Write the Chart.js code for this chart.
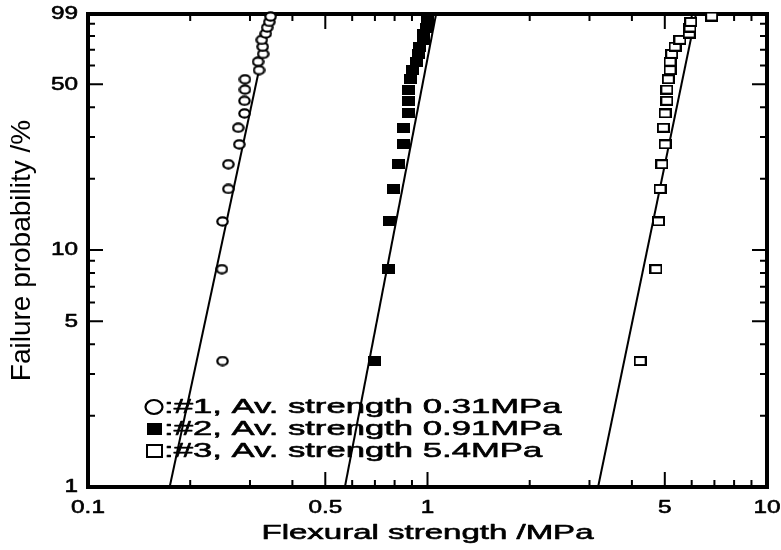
<!DOCTYPE html>
<html>
<head>
<meta charset="utf-8">
<title>Flexural strength – failure probability</title>
<script src="https://cdn.jsdelivr.net/npm/chart.js@4.4.0/dist/chart.umd.min.js"></script>
<style>
  html, body { margin: 0; padding: 0; background: #fff; }
  #wrap { width: 781px; height: 550px; position: relative; }
</style>
</head>
<body>
<div id="wrap"><canvas id="chart"></canvas></div>
<script>
// Failure probability (%) for the 20 specimens of each batch (median rank)
const failureProb = [3.4, 8.3, 13.2, 18.1, 23.0, 27.9, 32.8, 37.7, 42.6, 47.5,
                     52.5, 57.4, 62.3, 67.2, 72.1, 77.0, 81.9, 86.8, 91.7, 96.6];

// Flexural strength (MPa) for each batch, lowest first
const strength1 = [0.249, 0.248, 0.249, 0.259, 0.259, 0.279, 0.277, 0.289, 0.289, 0.290,
                   0.290, 0.319, 0.317, 0.328, 0.327, 0.325, 0.334, 0.337, 0.342, 0.345];
const strength2 = [0.700, 0.766, 0.775, 0.793, 0.820, 0.849, 0.849, 0.878, 0.878, 0.882,
                   0.894, 0.906, 0.925, 0.938, 0.950, 0.970, 0.976, 0.990, 0.997, 1.003];
const strength3 = [4.23, 4.71, 4.79, 4.84, 4.90, 5.01, 4.95, 5.01, 5.07, 5.07,
                   5.12, 5.18, 5.18, 5.24, 5.36, 5.54, 5.90, 5.93, 5.96, 6.87];

// Fitted lines: strength at 1 % and at 99 % failure probability
const fitProb = [1, 99];
const fit1 = [0.174, 0.346];
const fit2 = [0.571, 1.06];
const fit3 = [3.18, 6.18];

const seriesNames = [':#1, Av. strength 0.31MPa', ':#2, Av. strength 0.91MPa', ':#3, Av. strength 5.4MPa'];

// Axis ticks (all get a tick mark, only the labelled ones get text)
const xTicks = [0.1, 0.2, 0.3, 0.4, 0.5, 0.6, 0.7, 0.8, 0.9, 1, 2, 3, 4, 5, 6, 7, 8, 9, 10];
const xLabels = [0.1, 0.5, 1, 5, 10];
const yTicks = [1, 2, 3, 4, 5, 6, 7, 8, 9, 10, 20, 30, 40, 50, 60, 70, 80, 90, 99];
const yLabels = [1, 5, 10, 50, 99];

const FONT = '"Liberation Sans", Arial, Helvetica, sans-serif';

// horizontal text is drawn wide; factor picked by font size
const TEXT_WIDEN = { 19: 1.28, 20: 1.65, 21: 1.65 };

// small canvases used as point styles
function markerCanvas(w, h, paint) {
    const c = document.createElement('canvas');
    c.width = w;
    c.height = h;
    paint(c.getContext('2d'), w, h);
    return c;
}

function paintRing(g, w, h) {
    g.fillStyle = '#fff';
    g.strokeStyle = '#000';
    g.lineWidth = 2.2;
    g.beginPath();
    g.ellipse(w / 2, h / 2, w / 2 - 1.3, h / 2 - 1.3, 0, 0, Math.PI * 2);
    g.fill();
    g.stroke();
}
function paintSolid(g, w, h) {
    g.fillStyle = '#000';
    g.fillRect(0, 0, w, h);
}
function paintBox(g, w, h) {
    g.fillStyle = '#fff';
    g.fillRect(0, 0, w, h);
    g.strokeStyle = '#000';
    g.lineWidth = 2;
    g.strokeRect(1, 1, w - 2, h - 2);
}

const ringMark = markerCanvas(13, 11, paintRing);
const solidMark = markerCanvas(13, 10, paintSolid);
const boxMark = markerCanvas(13, 10, paintBox);

function points(xs) {
    return xs.map((v, i) => ({ x: v, y: failureProb[i] }));
}
function fitLine(xs) {
    return xs.map((v, i) => ({ x: v, y: fitProb[i] }));
}

function pointSet(xs, style) {
    return {
        data: points(xs),
        showLine: false,
        pointStyle: style,
        pointRadius: 6,
        pointHoverRadius: 6,
        clip: false,
        order: 0
    };
}
function lineSet(xs) {
    return {
        data: fitLine(xs),
        showLine: true,
        borderColor: '#000',
        borderWidth: 2,
        pointRadius: 0,
        clip: false,
        order: 1
    };
}

// Heavy, wide lettering: unrotated fillText on the chart canvas gets a thin
// outline and is stretched sideways around its anchor point
const wideText = {
    id: 'wideText',
    beforeInit(chart) {
        const ctx = chart.ctx;
        const plainFill = ctx.fillText.bind(ctx);
        const heavyFill = (text, x, y) => {
            ctx.save();
            ctx.strokeStyle = ctx.fillStyle;
            ctx.lineWidth = 0.6;
            ctx.lineJoin = 'round';
            ctx.strokeText(text, x, y);
            ctx.restore();
            plainFill(text, x, y);
        };
        ctx.fillText = function (text, x, y) {
            const m = ctx.getTransform();
            const size = parseInt((ctx.font.match(/(\d+)px/) || [0, 0])[1], 10);
            const k = TEXT_WIDEN[size] || 1;
            if (Math.abs(m.b) > 1e-6 || k === 1) {
                plainFill(text, x, y);
                return;
            }
            ctx.save();
            ctx.translate(x, y);
            ctx.scale(k, 1);
            heavyFill(text, 0, 0);
            ctx.restore();
        };
    }
};

// Frame and inward tick marks on all four sides
const frameTicks = {
    id: 'frameTicks',
    beforeDatasetsDraw(chart) {
        const { ctx, chartArea: a, scales: { x, y } } = chart;
        ctx.save();
        ctx.strokeStyle = '#000';
        ctx.lineWidth = 2;
        ctx.beginPath();
        xTicks.forEach(v => {
            const px = x.getPixelForValue(v);
            const len = xLabels.includes(v) ? 15 : 7;
            ctx.moveTo(px, a.bottom);
            ctx.lineTo(px, a.bottom - len);
            ctx.moveTo(px, a.top);
            ctx.lineTo(px, a.top + len);
        });
        yTicks.forEach(v => {
            const py = y.getPixelForValue(v);
            const len = yLabels.includes(v) ? 15 : 7;
            ctx.moveTo(a.left, py);
            ctx.lineTo(a.left + len, py);
            ctx.moveTo(a.right, py);
            ctx.lineTo(a.right - len, py);
        });
        ctx.stroke();
        ctx.lineWidth = 4;
        ctx.strokeRect(a.left, a.top, a.right - a.left, a.bottom - a.top);
        ctx.restore();
    }
};

// Legend in the lower left of the plot
const seriesKey = {
    id: 'seriesKey',
    afterDatasetsDraw(chart) {
        const { ctx } = chart;
        const rows = [407, 429, 451];
        const mx = 154;
        ctx.save();
        ctx.strokeStyle = '#000';
        ctx.fillStyle = '#000';
        ctx.lineWidth = 2.2;
        ctx.beginPath();
        ctx.ellipse(mx, rows[0], 8.5, 7, 0, 0, Math.PI * 2);
        ctx.stroke();
        ctx.fillRect(mx - 7, rows[1] - 6, 15, 12);
        ctx.lineWidth = 2;
        ctx.strokeRect(mx - 7, rows[2] - 6, 15, 12);

        ctx.font = '21px ' + FONT;
        ctx.textBaseline = 'middle';
        ctx.textAlign = 'left';
        seriesNames.forEach((name, i) => {
            ctx.fillText(name, 164, rows[i]);
        });
        ctx.restore();
    }
};

new Chart(document.getElementById('chart'), {
    type: 'scatter',
    data: {
        datasets: [
            pointSet(strength1, ringMark),
            pointSet(strength2, solidMark),
            pointSet(strength3, boxMark),
            lineSet(fit1),
            lineSet(fit2),
            lineSet(fit3)
        ]
    },
    options: {
        responsive: true,
        maintainAspectRatio: false,
        animation: false,
        events: [],
        layout: { padding: { top: 14, right: 14, left: 0, bottom: 0 } },
        plugins: {
            legend: { display: false },
            tooltip: { enabled: false }
        },
        scales: {
            x: {
                type: 'logarithmic',
                min: 0.1,
                max: 10,
                afterBuildTicks: scale => { scale.ticks = xTicks.map(v => ({ value: v })); },
                afterFit: scale => {
                    scale.height = 63;
                    scale.paddingLeft = 0;
                    scale.paddingRight = 0;
                },
                grid: { display: false, drawTicks: false },
                border: { display: false },
                ticks: {
                    autoSkip: false,
                    maxRotation: 0,
                    padding: 9,
                    color: '#000',
                    font: { family: FONT, size: 19 },
                    callback: v => xLabels.includes(v) ? String(v) : ''
                },
                title: {
                    display: true,
                    text: 'Flexural strength /MPa',
                    color: '#000',
                    font: { family: FONT, size: 20 },
                    padding: { top: 0, bottom: 5 }
                }
            },
            y: {
                type: 'logarithmic',
                min: 1,
                max: 99,
                afterBuildTicks: scale => { scale.ticks = yTicks.map(v => ({ value: v })); },
                afterFit: scale => {
                    scale.width = 88;
                    scale.paddingTop = 0;
                    scale.paddingBottom = 0;
                },
                grid: { display: false, drawTicks: false },
                border: { display: false },
                ticks: {
                    autoSkip: false,
                    padding: 10,
                    color: '#000',
                    font: { family: FONT, size: 19 },
                    callback: v => yLabels.includes(v) ? String(v) : ''
                },
                title: {
                    display: true,
                    text: 'Failure probability /%',
                    color: '#000',
                    font: { family: FONT, size: 28 },
                    padding: { top: 5, bottom: 0 }
                }
            }
        }
    },
    plugins: [wideText, frameTicks, seriesKey]
});
</script>
</body>
</html>
